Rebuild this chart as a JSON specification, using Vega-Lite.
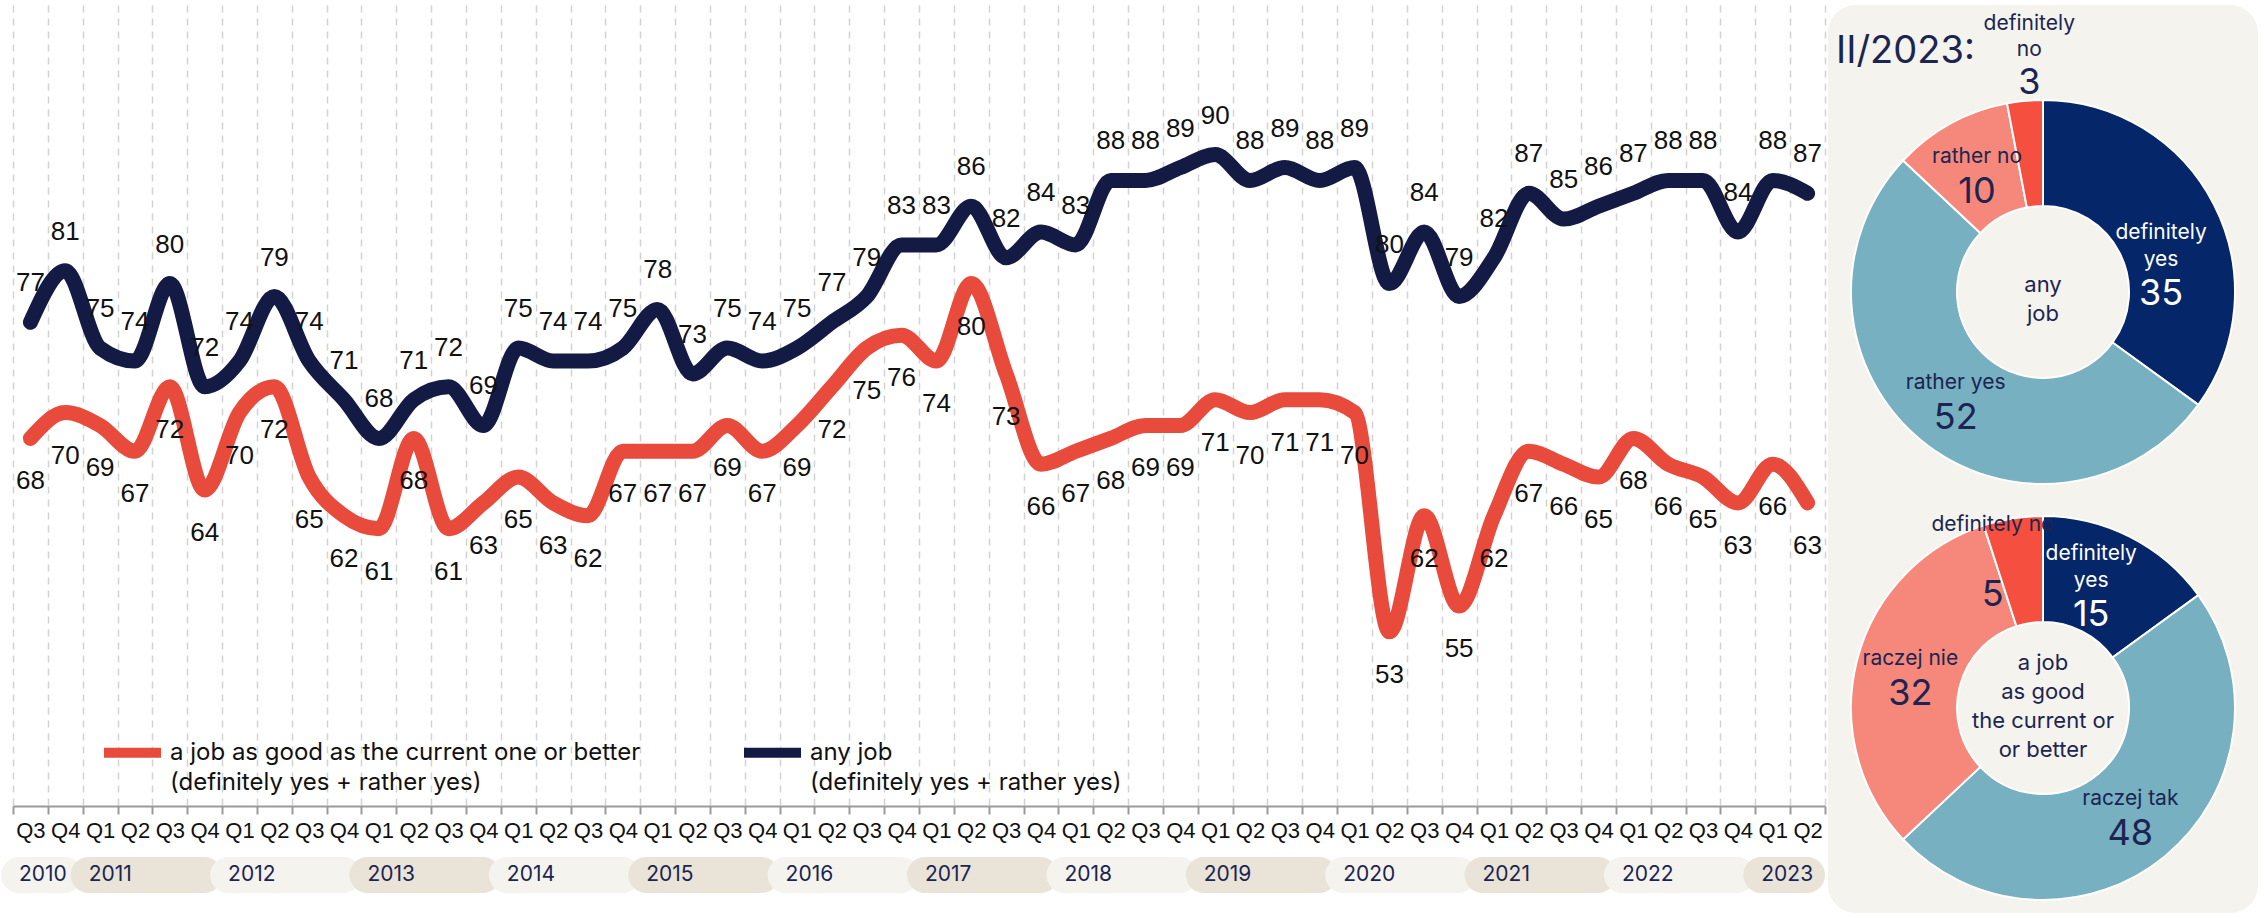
{
  "$schema": "https://vega.github.io/schema/vega-lite/v6.json",
  "padding": {"left": 1, "top": 5, "right": 0, "bottom": 0},
  "background": "white",
  "config": {"view": {"stroke": null}, "font": "Liberation Sans", "style": {"guide-label": {"lineHeight": 30}}},
  "datasets": {
    "series": [
      {"q": "2010 Q3", "a job as good as the current one or better": 68, "any job": 77},
      {"q": "2010 Q4", "a job as good as the current one or better": 70, "any job": 81},
      {"q": "2011 Q1", "a job as good as the current one or better": 69, "any job": 75},
      {"q": "2011 Q2", "a job as good as the current one or better": 67, "any job": 74},
      {"q": "2011 Q3", "a job as good as the current one or better": 72, "any job": 80},
      {"q": "2011 Q4", "a job as good as the current one or better": 64, "any job": 72},
      {"q": "2012 Q1", "a job as good as the current one or better": 70, "any job": 74},
      {"q": "2012 Q2", "a job as good as the current one or better": 72, "any job": 79},
      {"q": "2012 Q3", "a job as good as the current one or better": 65, "any job": 74},
      {"q": "2012 Q4", "a job as good as the current one or better": 62, "any job": 71},
      {"q": "2013 Q1", "a job as good as the current one or better": 61, "any job": 68},
      {"q": "2013 Q2", "a job as good as the current one or better": 68, "any job": 71},
      {"q": "2013 Q3", "a job as good as the current one or better": 61, "any job": 72},
      {"q": "2013 Q4", "a job as good as the current one or better": 63, "any job": 69},
      {"q": "2014 Q1", "a job as good as the current one or better": 65, "any job": 75},
      {"q": "2014 Q2", "a job as good as the current one or better": 63, "any job": 74},
      {"q": "2014 Q3", "a job as good as the current one or better": 62, "any job": 74},
      {"q": "2014 Q4", "a job as good as the current one or better": 67, "any job": 75},
      {"q": "2015 Q1", "a job as good as the current one or better": 67, "any job": 78},
      {"q": "2015 Q2", "a job as good as the current one or better": 67, "any job": 73},
      {"q": "2015 Q3", "a job as good as the current one or better": 69, "any job": 75},
      {"q": "2015 Q4", "a job as good as the current one or better": 67, "any job": 74},
      {"q": "2016 Q1", "a job as good as the current one or better": 69, "any job": 75},
      {"q": "2016 Q2", "a job as good as the current one or better": 72, "any job": 77},
      {"q": "2016 Q3", "a job as good as the current one or better": 75, "any job": 79},
      {"q": "2016 Q4", "a job as good as the current one or better": 76, "any job": 83},
      {"q": "2017 Q1", "a job as good as the current one or better": 74, "any job": 83},
      {"q": "2017 Q2", "a job as good as the current one or better": 80, "any job": 86},
      {"q": "2017 Q3", "a job as good as the current one or better": 73, "any job": 82},
      {"q": "2017 Q4", "a job as good as the current one or better": 66, "any job": 84},
      {"q": "2018 Q1", "a job as good as the current one or better": 67, "any job": 83},
      {"q": "2018 Q2", "a job as good as the current one or better": 68, "any job": 88},
      {"q": "2018 Q3", "a job as good as the current one or better": 69, "any job": 88},
      {"q": "2018 Q4", "a job as good as the current one or better": 69, "any job": 89},
      {"q": "2019 Q1", "a job as good as the current one or better": 71, "any job": 90},
      {"q": "2019 Q2", "a job as good as the current one or better": 70, "any job": 88},
      {"q": "2019 Q3", "a job as good as the current one or better": 71, "any job": 89},
      {"q": "2019 Q4", "a job as good as the current one or better": 71, "any job": 88},
      {"q": "2020 Q1", "a job as good as the current one or better": 70, "any job": 89},
      {"q": "2020 Q2", "a job as good as the current one or better": 53, "any job": 80},
      {"q": "2020 Q3", "a job as good as the current one or better": 62, "any job": 84},
      {"q": "2020 Q4", "a job as good as the current one or better": 55, "any job": 79},
      {"q": "2021 Q1", "a job as good as the current one or better": 62, "any job": 82},
      {"q": "2021 Q2", "a job as good as the current one or better": 67, "any job": 87},
      {"q": "2021 Q3", "a job as good as the current one or better": 66, "any job": 85},
      {"q": "2021 Q4", "a job as good as the current one or better": 65, "any job": 86},
      {"q": "2022 Q1", "a job as good as the current one or better": 68, "any job": 87},
      {"q": "2022 Q2", "a job as good as the current one or better": 66, "any job": 88},
      {"q": "2022 Q3", "a job as good as the current one or better": 65, "any job": 88},
      {"q": "2022 Q4", "a job as good as the current one or better": 63, "any job": 84},
      {"q": "2023 Q1", "a job as good as the current one or better": 66, "any job": 88},
      {"q": "2023 Q2", "a job as good as the current one or better": 63, "any job": 87}
    ],
    "years": [
      {"year": "2010", "start": 0, "end": 2},
      {"year": "2011", "start": 2, "end": 6},
      {"year": "2012", "start": 6, "end": 10},
      {"year": "2013", "start": 10, "end": 14},
      {"year": "2014", "start": 14, "end": 18},
      {"year": "2015", "start": 18, "end": 22},
      {"year": "2016", "start": 22, "end": 26},
      {"year": "2017", "start": 26, "end": 30},
      {"year": "2018", "start": 30, "end": 34},
      {"year": "2019", "start": 34, "end": 38},
      {"year": "2020", "start": 38, "end": 42},
      {"year": "2021", "start": 42, "end": 46},
      {"year": "2022", "start": 46, "end": 50},
      {"year": "2023", "start": 50, "end": 52}
    ],
    "donutAny": [
      {"chart": "any job", "answer": "definitely yes", "label": "definitely\nyes", "v": 35, "k": 1},
      {"chart": "any job", "answer": "rather yes", "label": "rather yes", "v": 52, "k": 2},
      {"chart": "any job", "answer": "rather no", "label": "rather no", "v": 10, "k": 3},
      {"chart": "any job", "answer": "definitely no", "label": "definitely\nno", "v": 3, "k": 4}
    ],
    "donutGood": [
      {"chart": "a job as good", "answer": "definitely yes", "label": "definitely\nyes", "v": 15, "k": 1},
      {"chart": "a job as good", "answer": "rather yes", "label": "raczej tak", "v": 48, "k": 2},
      {"chart": "a job as good", "answer": "rather no", "label": "raczej nie", "v": 32, "k": 3},
      {"chart": "a job as good", "answer": "definitely no", "label": "definitely no", "v": 5, "k": 4}
    ],
    "centers": [
      {"chart": "any job", "text": "any\njob"},
      {"chart": "a job as good", "text": "a job\nas good\nthe current or\nor better"}
    ],
    "heading": [
      {"chart": "any job", "text": "II/2023:"}
    ]
  },
  "hconcat": [
    {
      "vconcat": [
        {
          "width": 1812,
          "height": 801,
          "data": {"name": "series"},
          "transform": [{"fold": ["a job as good as the current one or better", "any job"], "as": ["series", "value"]}],
          "encoding": {
            "x": {
              "field": "q", "type": "ordinal", "sort": null,
              "scale": {"type": "band", "paddingInner": 0, "paddingOuter": 0},
              "axis": {
                "title": null, "labelExpr": "substring(datum.label, 5)", "labelAngle": 0,
                "tickBand": "extent", "grid": true, "gridDash": [7, 6], "gridColor": "#d2d2d2", "gridWidth": 1.5,
                "domainColor": "#9a9a9a", "domainWidth": 2, "tickColor": "#9a9a9a", "tickWidth": 2, "tickSize": 8,
                "labelFont": "Liberation Sans", "labelFontSize": 22, "labelColor": "#111111", "labelPadding": 6
              }
            },
            "y": {"field": "value", "type": "quantitative", "scale": {"domain": [39.5, 101.6], "zero": false, "nice": false}, "axis": null}
          },
          "layer": [
            {
              "mark": {"type": "line", "interpolate": "monotone", "strokeWidth": 15, "strokeCap": "round", "strokeJoin": "round"},
              "encoding": {
                "color": {
                  "field": "series", "type": "nominal",
                  "scale": {"domain": ["a job as good as the current one or better", "any job"], "range": ["#e84a3c", "#131b45"]},
                  "legend": {
                    "orient": "none", "legendX": 86, "legendY": 714, "direction": "horizontal", "columns": 2,
                    "columnPadding": 83, "title": null, "symbolType": "stroke", "symbolStrokeWidth": 10, "symbolSize": 3249,
                    "labelFont": "Inter", "labelFontSize": 24, "labelColor": "#111111", "labelLimit": 1000,
                    "labelOffset": 4, "padding": 0,
                    "labelExpr": "[datum.label, '(definitely yes + rather yes)']"
                  }
                }
              }
            },
            {
              "transform": [{"filter": "datum.series == 'any job'"}],
              "mark": {"type": "text", "dy": -39, "fontSize": 26, "font": "Liberation Sans", "color": "#111111", "baseline": "middle"},
              "encoding": {"text": {"field": "value", "type": "quantitative"}}
            },
            {
              "transform": [{"filter": "datum.series != 'any job'"}],
              "mark": {"type": "text", "dy": 43, "fontSize": 26, "font": "Liberation Sans", "color": "#111111", "baseline": "middle"},
              "encoding": {"text": {"field": "value", "type": "quantitative"}}
            }
          ]
        },
        {
          "width": 1812,
          "height": 36,
          "data": {"name": "years"},
          "encoding": {
            "x": {"field": "start", "type": "quantitative", "scale": {"domain": [0, 52], "nice": false, "zero": false}, "axis": null}
          },
          "layer": [
            {
              "mark": {"type": "rect", "cornerRadius": 18, "xOffset": -12},
              "encoding": {
                "x2": {"field": "end"},
                "color": {"condition": {"test": "toNumber(datum.year) % 2 == 1", "value": "#e9e3d8"}, "value": "#f4f3ee"}
              }
            },
            {
              "mark": {"type": "text", "align": "left", "dx": 6, "font": "Inter", "fontSize": 21, "color": "#1c2551", "baseline": "middle"},
              "encoding": {"text": {"field": "year", "type": "nominal"}}
            }
          ]
        }
      ],
      "spacing": 51,
      "bounds": "flush"
    },
    {
      "width": 430,
      "height": 908,
      "view": {"fill": "#f4f3ee", "stroke": null, "cornerRadius": 28},
      "encoding": {
        "y": {
          "field": "chart", "type": "nominal",
          "scale": {"type": "point", "domain": ["any job", "a job as good"], "padding": 0.5913, "align": 0.5833},
          "axis": null
        }
      },
      "layer": [
        {
          "data": {"name": "donutAny"},
          "mark": {"type": "arc", "innerRadius": 86, "outerRadius": 192, "stroke": "white", "strokeWidth": 2},
          "encoding": {
            "theta": {"field": "v", "type": "quantitative", "stack": true},
            "order": {"field": "k", "type": "quantitative"},
            "color": {"field": "answer", "type": "nominal", "legend": null,
              "scale": {"domain": ["definitely yes", "rather yes", "rather no", "definitely no"], "range": ["#06266a", "#76b0c1", "#f5887a", "#f44f3f"]}}
          }
        },
        {
          "data": {"name": "donutGood"},
          "mark": {"type": "arc", "innerRadius": 86, "outerRadius": 192, "stroke": "white", "strokeWidth": 2},
          "encoding": {
            "theta": {"field": "v", "type": "quantitative", "stack": true},
            "order": {"field": "k", "type": "quantitative"},
            "color": {"field": "answer", "type": "nominal", "legend": null,
              "scale": {"domain": ["definitely yes", "rather yes", "rather no", "definitely no"], "range": ["#06266a", "#76b0c1", "#f5887a", "#f44f3f"]}}
          }
        },
        {
          "data": {"name": "donutAny"},
          "mark": {"type": "text", "radius": 137, "baseline": "middle", "dy": -15, "font": "Inter", "fontSize": 21, "color": "#1c2551"},
          "encoding": {
            "theta": {"field": "v", "type": "quantitative", "stack": true},
            "order": {"field": "k", "type": "quantitative"},
            "text": {"condition": {"test": "datum.k == 2 || datum.k == 3", "field": "label"}, "value": ""}
          }
        },
        {
          "data": {"name": "donutAny"},
          "mark": {"type": "text", "radius": 137, "baseline": "middle", "dy": 20, "font": "Inter", "fontSize": 36, "color": "#1c2551"},
          "encoding": {
            "theta": {"field": "v", "type": "quantitative", "stack": true},
            "order": {"field": "k", "type": "quantitative"},
            "text": {"condition": {"test": "datum.k == 2 || datum.k == 3", "field": "v", "type": "quantitative"}, "value": ""}
          }
        },
        {
          "data": {"name": "donutAny"},
          "mark": {"type": "text", "radius": 137, "baseline": "middle", "dx": -4, "dy": 3, "font": "Inter", "fontSize": 21, "lineBreak": "\n", "lineHeight": 27, "color": "white"},
          "encoding": {
            "theta": {"field": "v", "type": "quantitative", "stack": true},
            "order": {"field": "k", "type": "quantitative"},
            "text": {"condition": {"test": "datum.k == 1", "field": "label"}, "value": ""}
          }
        },
        {
          "data": {"name": "donutAny"},
          "mark": {"type": "text", "radius": 137, "baseline": "middle", "dx": -4, "dy": 64, "font": "Inter", "fontSize": 36, "color": "white"},
          "encoding": {
            "theta": {"field": "v", "type": "quantitative", "stack": true},
            "order": {"field": "k", "type": "quantitative"},
            "text": {"condition": {"test": "datum.k == 1", "field": "v", "type": "quantitative"}, "value": ""}
          }
        },
        {
          "data": {"name": "donutAny"},
          "mark": {"type": "text", "radius": 231, "baseline": "middle", "dx": 8, "dy": -38, "font": "Inter", "fontSize": 21, "lineBreak": "\n", "lineHeight": 26, "color": "#1c2551"},
          "encoding": {
            "theta": {"field": "v", "type": "quantitative", "stack": true},
            "order": {"field": "k", "type": "quantitative"},
            "text": {"condition": {"test": "datum.k == 4", "field": "label"}, "value": ""}
          }
        },
        {
          "data": {"name": "donutAny"},
          "mark": {"type": "text", "radius": 231, "baseline": "middle", "dx": 8, "dy": 21, "font": "Inter", "fontSize": 36, "color": "#1c2551"},
          "encoding": {
            "theta": {"field": "v", "type": "quantitative", "stack": true},
            "order": {"field": "k", "type": "quantitative"},
            "text": {"condition": {"test": "datum.k == 4", "field": "v", "type": "quantitative"}, "value": ""}
          }
        },
        {
          "data": {"name": "donutGood"},
          "mark": {"type": "text", "radius": 137, "baseline": "middle", "dy": -15, "font": "Inter", "fontSize": 21, "color": "#1c2551"},
          "encoding": {
            "theta": {"field": "v", "type": "quantitative", "stack": true},
            "order": {"field": "k", "type": "quantitative"},
            "text": {"condition": {"test": "datum.k == 2 || datum.k == 3", "field": "label"}, "value": ""}
          }
        },
        {
          "data": {"name": "donutGood"},
          "mark": {"type": "text", "radius": 137, "baseline": "middle", "dy": 20, "font": "Inter", "fontSize": 36, "color": "#1c2551"},
          "encoding": {
            "theta": {"field": "v", "type": "quantitative", "stack": true},
            "order": {"field": "k", "type": "quantitative"},
            "text": {"condition": {"test": "datum.k == 2 || datum.k == 3", "field": "v", "type": "quantitative"}, "value": ""}
          }
        },
        {
          "data": {"name": "donutGood"},
          "mark": {"type": "text", "radius": 137, "baseline": "middle", "dx": -14, "dy": -32, "font": "Inter", "fontSize": 21, "lineBreak": "\n", "lineHeight": 27, "color": "white"},
          "encoding": {
            "theta": {"field": "v", "type": "quantitative", "stack": true},
            "order": {"field": "k", "type": "quantitative"},
            "text": {"condition": {"test": "datum.k == 1", "field": "label"}, "value": ""}
          }
        },
        {
          "data": {"name": "donutGood"},
          "mark": {"type": "text", "radius": 137, "baseline": "middle", "dx": -14, "dy": 29, "font": "Inter", "fontSize": 36, "color": "white"},
          "encoding": {
            "theta": {"field": "v", "type": "quantitative", "stack": true},
            "order": {"field": "k", "type": "quantitative"},
            "text": {"condition": {"test": "datum.k == 1", "field": "v", "type": "quantitative"}, "value": ""}
          }
        },
        {
          "data": {"name": "donutGood"},
          "mark": {"type": "text", "radius": 137, "baseline": "middle", "dx": -29, "dy": -48, "font": "Inter", "fontSize": 21, "color": "#1c2551"},
          "encoding": {
            "theta": {"field": "v", "type": "quantitative", "stack": true},
            "order": {"field": "k", "type": "quantitative"},
            "text": {"condition": {"test": "datum.k == 4", "field": "label"}, "value": ""}
          }
        },
        {
          "data": {"name": "donutGood"},
          "mark": {"type": "text", "radius": 137, "baseline": "middle", "dx": -29, "dy": 22, "font": "Inter", "fontSize": 36, "color": "#1c2551"},
          "encoding": {
            "theta": {"field": "v", "type": "quantitative", "stack": true},
            "order": {"field": "k", "type": "quantitative"},
            "text": {"condition": {"test": "datum.k == 4", "field": "v", "type": "quantitative"}, "value": ""}
          }
        },
        {
          "data": {"name": "centers"},
          "transform": [{"filter": "datum.chart == 'any job'"}],
          "mark": {"type": "text", "baseline": "middle", "dy": -7, "font": "Inter", "fontSize": 22, "lineBreak": "\n", "lineHeight": 29, "color": "#1c2551"},
          "encoding": {"text": {"field": "text", "type": "nominal"}}
        },
        {
          "data": {"name": "centers"},
          "transform": [{"filter": "datum.chart != 'any job'"}],
          "mark": {"type": "text", "baseline": "middle", "dy": -45, "font": "Inter", "fontSize": 22, "lineBreak": "\n", "lineHeight": 29, "color": "#1c2551"},
          "encoding": {"text": {"field": "text", "type": "nominal"}}
        },
        {
          "data": {"name": "heading"},
          "mark": {"type": "text", "align": "left", "baseline": "alphabetic", "dx": -207, "dy": -229, "font": "Inter", "fontSize": 38, "color": "#1c2551"},
          "encoding": {"text": {"field": "text", "type": "nominal"}}
        }
      ]
    }
  ],
  "spacing": 2,
  "resolve": {"scale": {"color": "independent"}}
}
